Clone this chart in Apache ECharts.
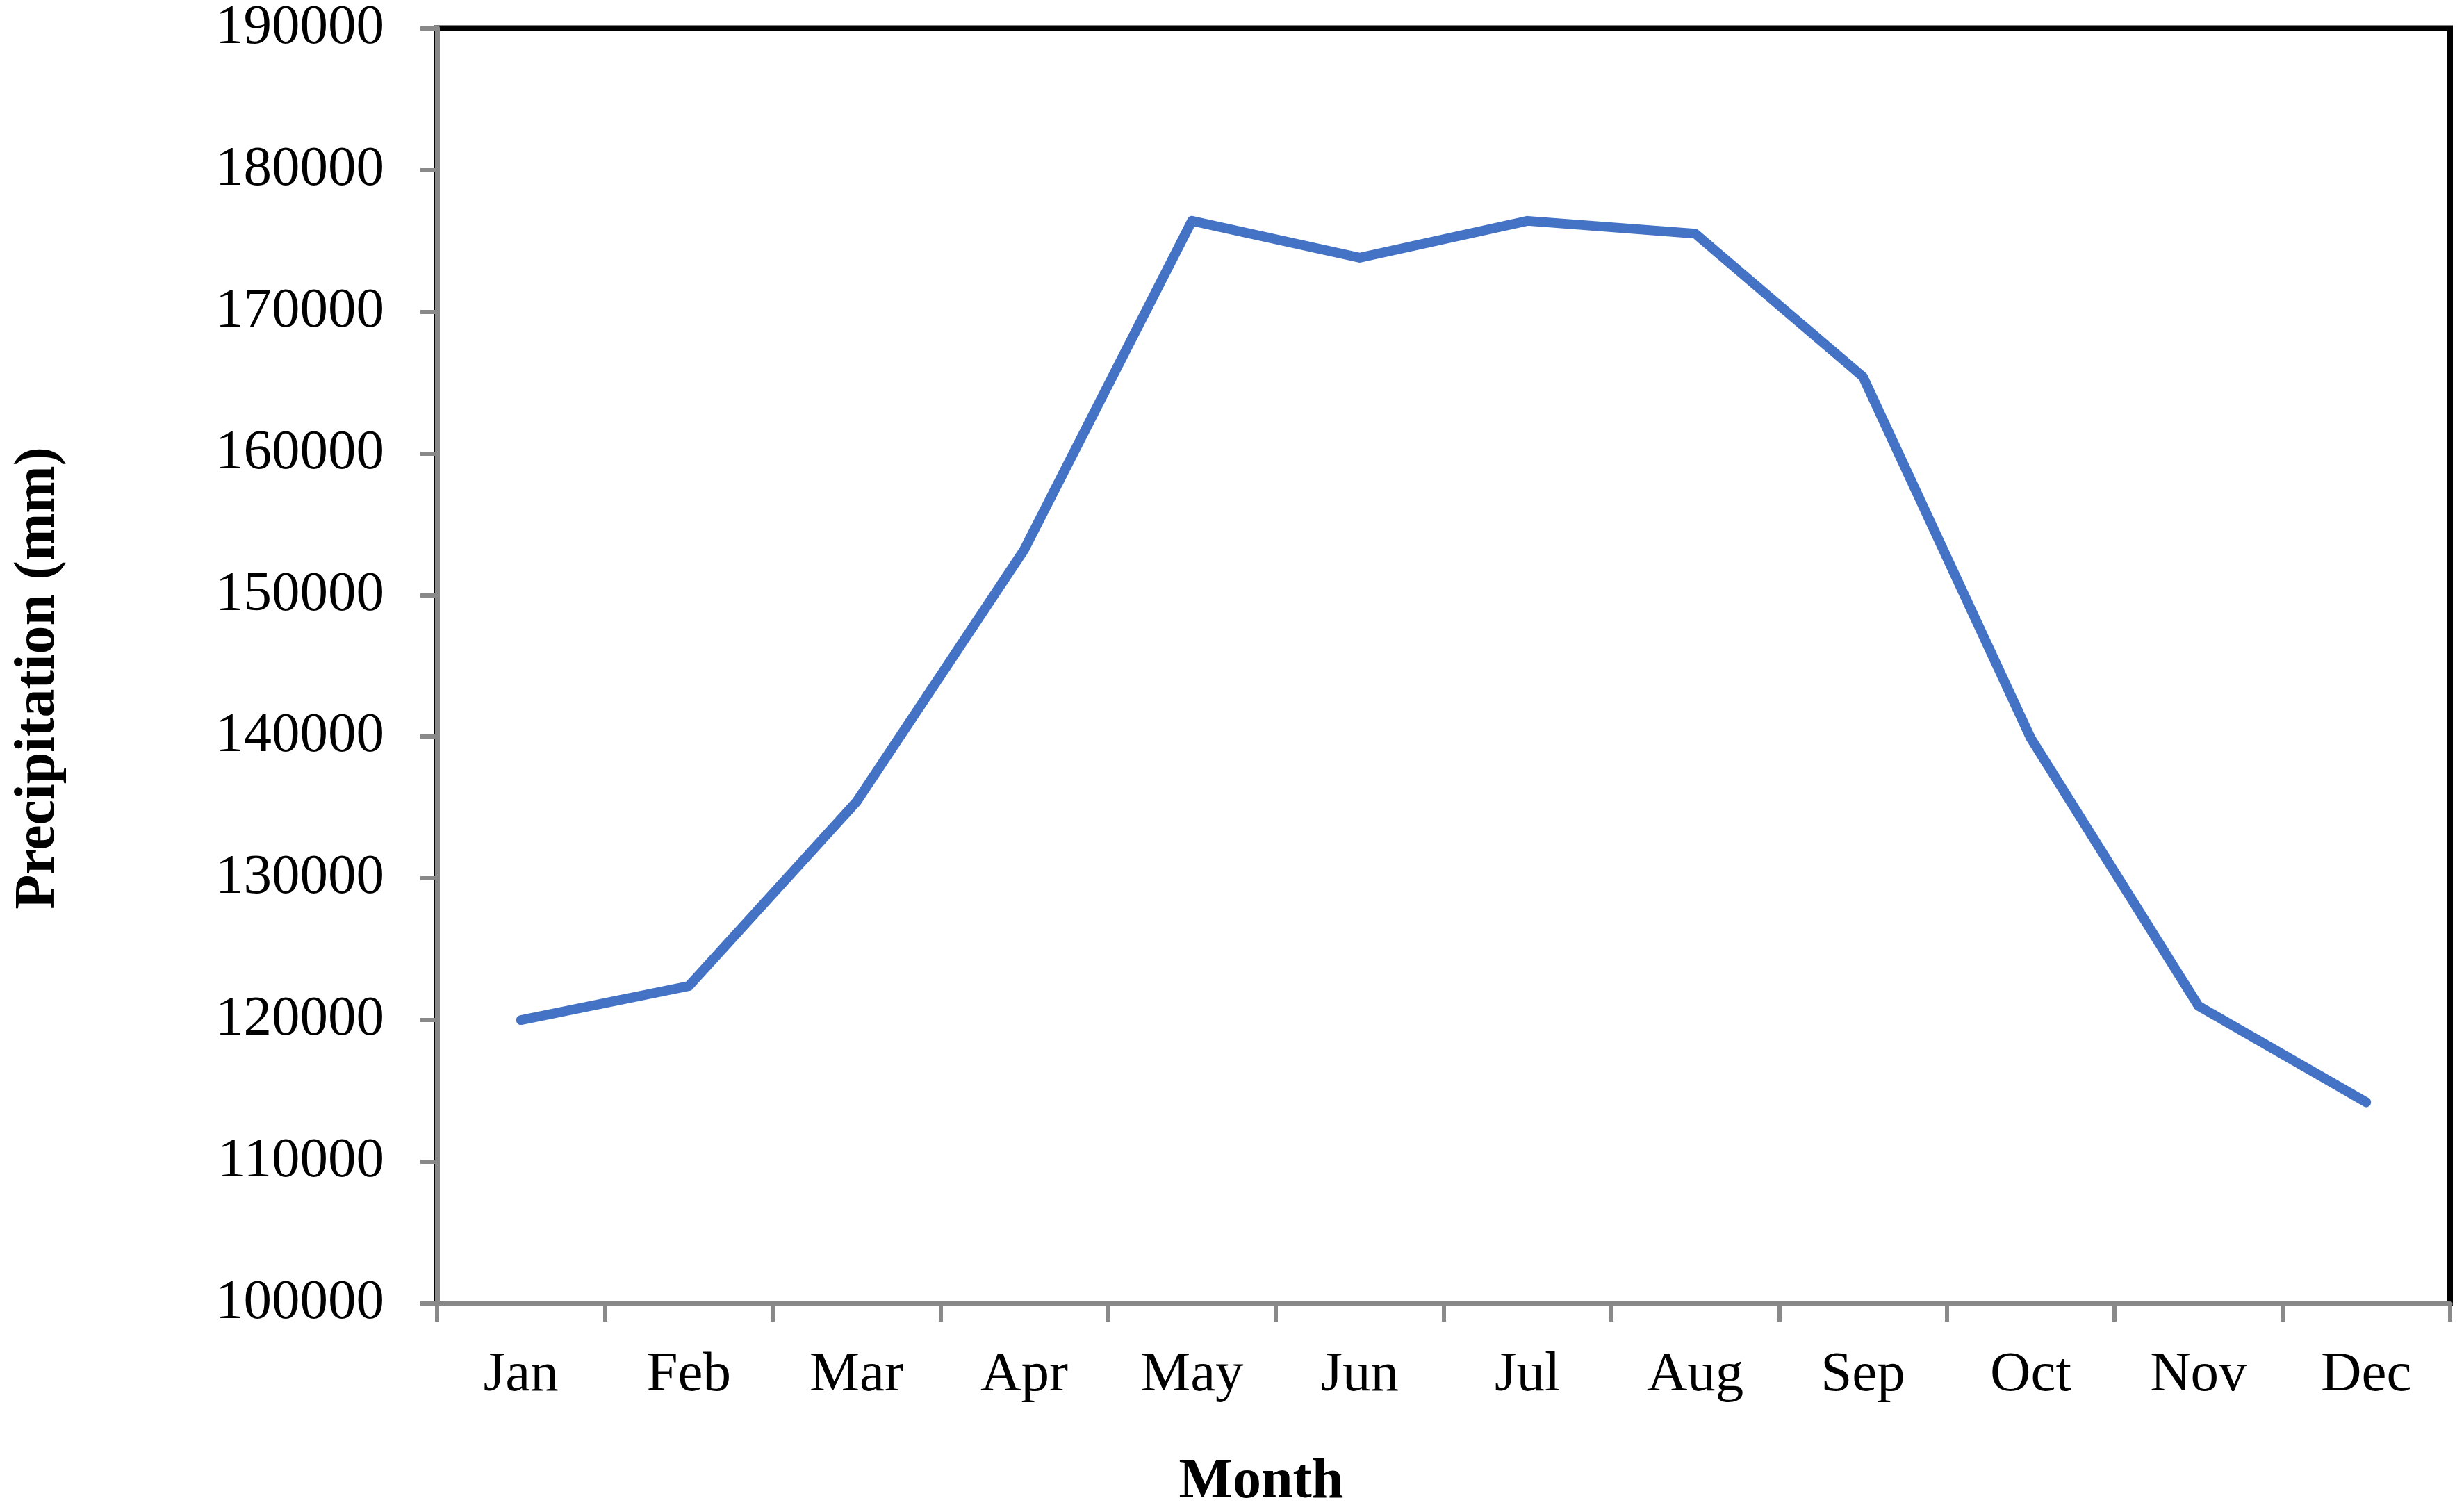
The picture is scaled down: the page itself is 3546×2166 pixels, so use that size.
<!DOCTYPE html>
<html>
<head>
<meta charset="utf-8">
<script src="https://cdn.jsdelivr.net/npm/echarts@6/dist/echarts.min.js"></script>
<style>
html,body{margin:0;padding:0;background:#fff;}
#chart{width:3546px;height:2166px;}
</style>
</head>
<body>
<div id="chart"></div>
<script>
const months = ['Jan','Feb','Mar','Apr','May','Jun','Jul','Aug','Sep','Oct','Nov','Dec'];
const precipitation = [120000, 122400, 135400, 153200, 176400, 173800, 176400, 175500, 165400, 139900, 121000, 114200];
const yMin = 100000;
const yMax = 190000;
const yStep = 10000;
const xTitle = 'Month';
const yTitle = 'Precipitation (mm)';

const font = 'Liberation Serif, Times New Roman, serif';
const axisGray = '#898989';

const chart = echarts.init(document.getElementById('chart'), null, {renderer: 'canvas'});
chart.setOption({
  backgroundColor: '#ffffff',
  animation: false,
  grid: {
    left: 629, right: 20, top: 40, bottom: 290,
    show: true, borderColor: '#000000', borderWidth: 8, backgroundColor: 'transparent'
  },
  xAxis: {
    type: 'category',
    data: months,
    boundaryGap: true,
    axisLine: {show: true, lineStyle: {color: axisGray, width: 7}},
    axisTick: {show: true, length: 26, lineStyle: {color: axisGray, width: 6}},
    axisLabel: {margin: 63, fontSize: 81, fontFamily: font, color: '#000'},
    splitLine: {show: false}
  },
  yAxis: {
    type: 'value',
    min: yMin, max: yMax, interval: yStep,
    axisLine: {show: true, lineStyle: {color: axisGray, width: 7}},
    axisTick: {show: true, length: 24, lineStyle: {color: axisGray, width: 6}},
    axisLabel: {margin: 76, fontSize: 81, fontFamily: font, color: '#000',
      formatter: function (v) { return String(v); }},
    splitLine: {show: false}
  },
  series: [{
    type: 'line',
    data: precipitation,
    symbol: 'none',
    lineStyle: {color: '#4472C4', width: 14, cap: 'round', join: 'round'}
  }],
  graphic: [
    {
      type: 'text', x: 1815, y: 2134,
      style: {text: xTitle, font: 'bold 82px ' + font, fill: '#000', textAlign: 'center', textVerticalAlign: 'middle'}
    },
    {
      type: 'text',
      x: 56, y: 976,
      rotation: Math.PI / 2,
      style: {text: yTitle, font: 'bold 82px ' + font, fill: '#000', textAlign: 'center', textVerticalAlign: 'middle'}
    }
  ]
});
</script>
</body>
</html>
